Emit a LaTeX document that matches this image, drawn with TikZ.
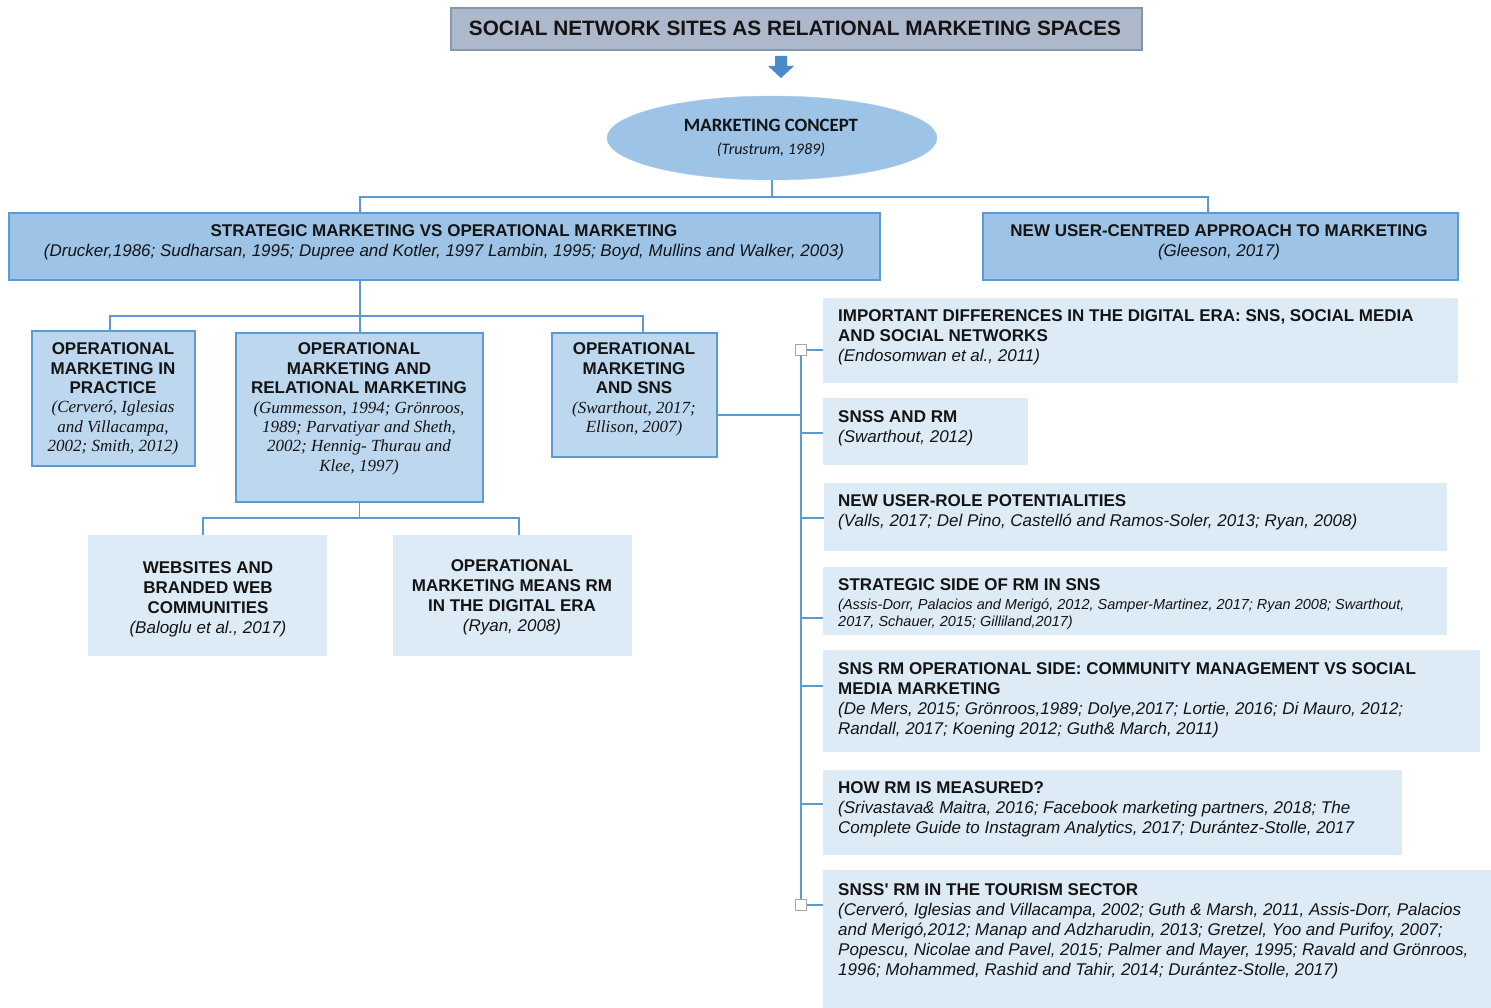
\documentclass[tikz,border=0pt]{standalone}
\usepackage{fontspec}
\setmainfont{Liberation Sans}
\newfontfamily\serifit{Liberation Serif}
\newfontfamily\calib{Carlito}
\usetikzlibrary{shapes.geometric}
\definecolor{titlefill}{HTML}{ADB9CA}
\definecolor{titleline}{HTML}{8497B0}
\definecolor{midfill}{HTML}{9DC3E6}
\definecolor{boxline}{HTML}{5B9BD5}
\definecolor{lightfill}{HTML}{BDD7EE}
\definecolor{palefill}{HTML}{DDEBF7}
\definecolor{arrowfill}{HTML}{4A8BCB}
\definecolor{txt}{HTML}{141414}
\newcommand\bl[1]{{\bfseries #1}}
\newcommand\ci[1]{{\itshape #1}}
\newcommand\si[1]{{\serifit\itshape #1}}
\newcommand\smi[1]{{\fontsize{14.5}{17}\selectfont\itshape #1}}
\tikzset{
 conn/.style={draw=boxline, line width=1.3pt},
 bx/.style={anchor=north west, inner sep=0pt, outer sep=0pt},
 midbox/.style={bx, fill=midfill, draw=boxline, line width=1.2pt},
 litebox/.style={bx, fill=lightfill, draw=boxline, line width=1.2pt},
 palebox/.style={bx, fill=palefill},
 tc/.style={inner sep=0pt, align=center, text=txt, font=\fontsize{17}{20}\selectfont},
 tcs/.style={tc, font=\fontsize{17}{19.4}\selectfont},
 tl/.style={inner sep=0pt, align=left, anchor=west, text=txt, font=\fontsize{17}{20}\selectfont},
 sq/.style={draw=gray!70, fill=white, line width=0.8pt, minimum size=11pt, inner sep=0pt},
}
\begin{document}
\begin{tikzpicture}[x=1pt,y=-1pt]
\useasboundingbox (0,0) rectangle (1491,1008);
% title
\node[bx, fill=titlefill, draw=titleline, line width=1.2pt, minimum width=691pt, minimum height=42pt] (title) at (451,8) {};
\node[tc, font=\fontsize{20.8}{23}\selectfont\bfseries] (titleT) at (795,28) {SOCIAL NETWORK SITES AS RELATIONAL MARKETING SPACES};
\fill[arrowfill] (775,56) -- (787,56) -- (787,66) -- (794,66) -- (781,78) -- (768,66) -- (775,66) -- cycle;
% marketing concept
\node[ellipse, fill=midfill, draw=midfill!85!white, minimum width=330pt, minimum height=84pt, inner sep=0pt] (mc) at (772,138) {};
\node[tc, font=\calib\fontsize{18.8}{23}\selectfont] (mcT) at (771,138) {\bl{MARKETING CONCEPT}\\\ci{\fontsize{16}{23}\selectfont(Trustrum, 1989)}};
% level 1
\node[midbox, minimum width=871pt, minimum height=67pt] (strat) at (9,213) {};
\node[tc] (stratT) at (444,242.5) {\bl{STRATEGIC MARKETING VS OPERATIONAL MARKETING}\\\ci{(Drucker,1986; Sudharsan, 1995; Dupree and Kotler, 1997 Lambin, 1995; Boyd, Mullins and Walker, 2003)}};
\node[midbox, minimum width=475pt, minimum height=67pt] (new) at (983,213) {};
\node[tc] (newT) at (1219,242.5) {\bl{NEW USER-CENTRED APPROACH TO MARKETING}\\\ci{(Gleeson, 2017)}};
% level 2
\node[litebox, minimum width=163pt, minimum height=135pt] (op1) at (32,331) {};
\node[tcs] (op1T) at (113,399) {\bl{OPERATIONAL}\\\bl{MARKETING IN}\\\bl{PRACTICE}\\\si{(Cerveró, Iglesias}\\\si{and Villacampa,}\\\si{2002; Smith, 2012)}};
\node[litebox, minimum width=247pt, minimum height=169pt] (op2) at (236,333) {};
\node[tcs] (op2T) at (359,409) {\bl{OPERATIONAL}\\\bl{MARKETING AND}\\\bl{RELATIONAL MARKETING}\\\si{(Gummesson, 1994; Grönroos,}\\\si{1989; Parvatiyar and Sheth,}\\\si{2002; Hennig- Thurau and}\\\si{Klee, 1997)}};
\node[litebox, minimum width=165pt, minimum height=124pt] (op3) at (552,333) {};
\node[tcs] (op3T) at (634,389.5) {\bl{OPERATIONAL}\\\bl{MARKETING}\\\bl{AND SNS}\\\si{(Swarthout, 2017;}\\\si{Ellison, 2007)}};
% level 3
\node[palebox, minimum width=239pt, minimum height=121pt] (web) at (88,535) {};
\node[tc] (webT) at (208,599) {\bl{WEBSITES AND}\\\bl{BRANDED WEB}\\\bl{COMMUNITIES}\\\ci{(Baloglu et al., 2017)}};
\node[palebox, minimum width=239pt, minimum height=121pt] (omr) at (393,535) {};
\node[tc] (omrT) at (512,597) {\bl{OPERATIONAL}\\\bl{MARKETING MEANS RM}\\\bl{IN THE DIGITAL ERA}\\\ci{(Ryan, 2008)}};
% right column
\node[palebox, minimum width=635pt, minimum height=85pt] (r1) at (823,298) {};
\node[tl] (r1T) at (838,337.5) {\bl{IMPORTANT DIFFERENCES IN THE DIGITAL ERA: SNS, SOCIAL MEDIA}\\\bl{AND SOCIAL NETWORKS}\\\ci{(Endosomwan et al., 2011)}};
\node[palebox, minimum width=205pt, minimum height=67pt] (r2) at (823,398) {};
\node[tl] (r2T) at (838,428) {\bl{SNSS AND RM}\\\ci{(Swarthout, 2012)}};
\node[palebox, minimum width=623pt, minimum height=68pt] (r3) at (824,483) {};
\node[tl] (r3T) at (838,512.5) {\bl{NEW USER-ROLE POTENTIALITIES}\\\ci{(Valls, 2017; Del Pino, Castelló and Ramos-Soler, 2013; Ryan, 2008)}};
\node[palebox, minimum width=624pt, minimum height=68pt] (r4) at (823,567) {};
\node[tl] (r4T) at (838,604.5) {\bl{STRATEGIC SIDE OF RM IN SNS}\\[-1pt]\smi{(Assis-Dorr, Palacios and Merigó, 2012, Samper-Martinez, 2017; Ryan 2008; Swarthout,}\\[-3pt]\smi{2017, Schauer, 2015; Gilliland,2017)}};
\node[palebox, minimum width=657pt, minimum height=102pt] (r5) at (823,650) {};
\node[tl] (r5T) at (838,700.5) {\bl{SNS RM OPERATIONAL SIDE: COMMUNITY MANAGEMENT VS SOCIAL}\\\bl{MEDIA MARKETING}\\\ci{(De Mers, 2015; Grönroos,1989; Dolye,2017; Lortie, 2016; Di Mauro, 2012;}\\\ci{Randall, 2017; Koening 2012; Guth\& March, 2011)}};
\node[palebox, minimum width=579pt, minimum height=85pt] (r6) at (823,770) {};
\node[tl] (r6T) at (838,809.5) {\bl{HOW RM IS MEASURED?}\\\ci{(Srivastava\& Maitra, 2016; Facebook marketing partners, 2018; The}\\\ci{Complete Guide to Instagram Analytics, 2017; Durántez-Stolle, 2017}};
\node[palebox, minimum width=668pt, minimum height=138pt] (r7) at (823,870) {};
\node[tl] (r7T) at (838,931) {\bl{SNSS\textquotesingle{} RM IN THE TOURISM SECTOR}\\\ci{(Cerveró, Iglesias and Villacampa, 2002; Guth \& Marsh, 2011, Assis-Dorr, Palacios}\\\ci{and Merigó,2012; Manap and Adzharudin, 2013; Gretzel, Yoo and Purifoy, 2007;}\\\ci{Popescu, Nicolae and Pavel, 2015; Palmer and Mayer, 1995; Ravald and Grönroos,}\\\ci{1996; Mohammed, Rashid and Tahir, 2014; Durántez-Stolle, 2017)}};
% connectors level 0-1
\coordinate (j1) at (360,197);
\coordinate (j2) at (1208,197);
\draw[conn] (mc.south) -- (mc.south |- j1);
\draw[conn] (strat.north -| j1) -- (j1) -- (j2) -- (new.north -| j2);
% level 1-2
\coordinate (k0) at (360,316);
\coordinate (k1) at (110,316);
\coordinate (k3) at (643,316);
\draw[conn] (strat.south -| k0) -- (k0);
\draw[conn] (op1.north -| k1) -- (k1) -- (k3) -- (op3.north -| k3);
\draw[conn] (k0) -- (op2.north -| k0);
% level 2-3
\coordinate (m1) at (203,518);
\coordinate (m2) at (519,518);
\draw[conn] (op2.south) -- (op2.south |- m1);
\draw[conn] (web.north -| m1) -- (m1) -- (m2) -- (omr.north -| m2);
% right bus
\coordinate (h) at (801,415);
\coordinate (b1) at (801,350);
\coordinate (b2) at (801,433);
\coordinate (b3) at (801,518);
\coordinate (b4) at (801,618);
\coordinate (b5) at (801,686);
\coordinate (b6) at (801,804);
\coordinate (b7) at (801,905);
\draw[conn] (op3.east |- h) -- (h);
\draw[conn] (b1) -- (b7);
\draw[conn] (b1) -- (r1.west |- b1);
\draw[conn] (b2) -- (r2.west |- b2);
\draw[conn] (b3) -- (r3.west |- b3);
\draw[conn] (b4) -- (r4.west |- b4);
\draw[conn] (b5) -- (r5.west |- b5);
\draw[conn] (b6) -- (r6.west |- b6);
\draw[conn] (b7) -- (r7.west |- b7);
\node[sq] (s1) at (b1) {};
\node[sq] (s7) at (b7) {};
\end{tikzpicture}
\end{document}
